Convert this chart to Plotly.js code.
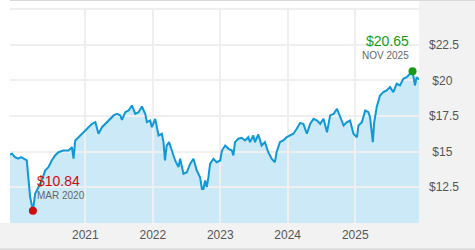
<!DOCTYPE html>
<html>
<head>
<meta charset="utf-8">
<script src="https://cdn.plot.ly/plotly-3.0.1.min.js"></script>
<style>html,body{margin:0;padding:0;background:#fff;}#chart{width:475px;height:250px;}</style>
</head>
<body>
<div id="chart"></div>
<script>
var dates = ['2019-11-20','2019-12-01','2019-12-17',
'2020-01-03','2020-01-19','2020-02-05','2020-02-19','2020-02-27','2020-03-08','2020-03-23','2020-04-04','2020-04-22','2020-05-10','2020-05-28','2020-06-15','2020-07-03','2020-07-21','2020-08-08','2020-09-04','2020-10-02','2020-10-20','2020-10-29','2020-11-07','2020-11-25','2020-12-13',
'2021-01-01','2021-01-19','2021-02-06','2021-02-24','2021-03-13','2021-04-01','2021-04-19','2021-05-06','2021-05-25','2021-06-03','2021-06-21','2021-07-09','2021-07-18','2021-08-05','2021-08-23','2021-09-10','2021-09-28','2021-10-16','2021-11-03','2021-11-21','2021-11-30','2021-12-18','2021-12-27',
'2022-01-14','2022-02-01','2022-02-19','2022-02-28','2022-03-08','2022-03-17','2022-03-30','2022-04-14','2022-05-02','2022-05-20','2022-05-29','2022-06-16','2022-07-04','2022-07-22','2022-08-09','2022-08-27','2022-09-14','2022-09-24','2022-10-02','2022-10-11','2022-10-20','2022-10-29','2022-11-07','2022-11-25','2022-12-13',
'2023-01-01','2023-01-10','2023-01-28','2023-02-15','2023-03-05','2023-03-13','2023-03-22','2023-04-09','2023-04-27','2023-05-15','2023-06-02','2023-06-11','2023-06-29','2023-07-08','2023-07-26','2023-08-13','2023-08-31','2023-09-18','2023-10-06','2023-10-24','2023-11-02','2023-11-20','2023-12-08','2023-12-27',
'2024-01-14','2024-02-01','2024-02-19','2024-03-08','2024-03-26','2024-04-14','2024-05-02','2024-05-20','2024-06-08','2024-06-25','2024-07-13','2024-08-01','2024-08-18','2024-09-06','2024-09-24','2024-10-12','2024-10-30','2024-11-17','2024-12-04','2024-12-22',
'2025-01-10','2025-01-18','2025-02-06','2025-02-24','2025-03-13','2025-03-22','2025-04-06','2025-04-13','2025-04-27','2025-05-15','2025-06-02','2025-06-20','2025-07-08','2025-07-26','2025-08-13','2025-08-31','2025-09-18','2025-10-06','2025-10-24','2025-11-07','2025-11-20','2025-11-29','2025-12-12'];

var values = [14.79,14.85,14.60,
14.50,14.60,14.45,14.37,13.20,11.80,10.84,12.02,12.49,12.96,13.66,13.90,14.37,14.72,14.95,15.07,15.07,15.30,14.50,15.78,16.01,16.25,
16.48,16.71,16.95,17.07,16.25,16.71,16.95,17.18,17.42,17.54,17.65,17.54,17.23,17.77,17.89,18.24,17.65,17.77,18.17,17.65,17.07,17.18,16.71,
17.30,16.13,16.25,15.66,14.37,15.42,15.66,15.07,14.37,13.90,14.49,13.43,13.54,14.13,14.49,13.66,13.19,12.37,12.37,12.96,12.50,13.19,14.13,14.49,14.25,
14.37,15.07,15.42,15.19,15.07,14.72,15.66,15.90,15.97,15.78,16.01,15.66,16.13,15.66,16.20,15.42,15.66,14.95,14.49,14.25,14.95,15.66,15.78,16.01,
16.13,16.25,16.60,17.00,16.95,16.25,16.95,17.30,17.18,16.95,17.30,16.36,17.54,17.65,18.01,17.42,16.83,17.07,17.18,16.25,
16.01,16.83,17.07,17.89,17.77,17.42,15.66,17.00,18.13,18.94,19.18,19.30,19.53,19.18,19.77,19.65,20.12,20.23,20.47,20.65,19.65,20.23,20.07];

var yTickVals = [12.5, 15, 17.5, 20, 22.5, 25];
var yTickText = ['$12.5', '\u00a0$15', '$17.5', '\u00a0$20', '$22.5', ''];
var xTickVals = ['2021-01-01','2022-01-01','2023-01-01','2024-01-01','2025-01-01'];
var xTickText = ['2021','2022','2023','2024','2025'];
var minLabel = '$10.84', minDateLabel = 'MAR 2020';
var maxLabel = '$20.65', maxDateLabel = 'NOV 2025';

var minV = Math.min.apply(null, values), maxV = Math.max.apply(null, values);
var iMin = values.indexOf(minV), iMax = values.indexOf(maxV);

var xRange = ['2019-11-20', '2025-12-12'];
var yRange = [9.97, 25.1];
var FONT = 'Liberation Sans, Arial, sans-serif';
var RED = '#d10a0a', GREEN = '#169c16', BLUE = '#0e98d8';

var traces = [
  {x: dates, y: values, type: 'scatter', mode: 'lines', xaxis: 'x', yaxis: 'y',
   line: {width: 0, color: BLUE}, fill: 'tozeroy', fillcolor: '#cce9f7', hoverinfo: 'skip'},
  {x: dates, y: values, type: 'scatter', mode: 'lines', xaxis: 'x2', yaxis: 'y2',
   line: {width: 2, color: BLUE}},
  {x: [dates[iMin]], y: [minV], type: 'scatter', mode: 'markers', xaxis: 'x2', yaxis: 'y2',
   marker: {size: 8, color: RED}},
  {x: [dates[iMax]], y: [maxV], type: 'scatter', mode: 'markers', xaxis: 'x2', yaxis: 'y2',
   marker: {size: 8, color: GREEN}}
];

var hidden = {showgrid: false, zeroline: false, showticklabels: false, showline: false, ticks: ''};

var layout = {
  width: 475, height: 250,
  margin: {l: 10, r: 56, t: 8, b: 27, pad: 0},
  paper_bgcolor: '#ffffff', plot_bgcolor: 'rgba(0,0,0,0)',
  showlegend: false,
  font: {family: FONT, size: 12, color: '#555'},
  xaxis: Object.assign({type: 'date', range: xRange, domain: [0, 1], anchor: 'y'}, hidden),
  yaxis: Object.assign({range: yRange, domain: [0, 1], anchor: 'x'}, hidden),
  xaxis2: {type: 'date', range: xRange, domain: [0, 1], anchor: 'y2',
    tickmode: 'array', tickvals: xTickVals, ticktext: xTickText,
    showgrid: true, gridcolor: '#efefef', gridwidth: 2, zeroline: false, showline: false,
    ticks: '', tickfont: {family: FONT, size: 12, color: '#555'}, ticklabelstandoff: 3},
  yaxis2: {range: yRange, domain: [0, 1], anchor: 'x2', side: 'right',
    tickmode: 'array', tickvals: yTickVals, ticktext: yTickText,
    showgrid: true, gridcolor: '#efefef', gridwidth: 2, zeroline: false, showline: false,
    ticks: '', tickfont: {family: FONT, size: 12, color: '#555'}, ticklabelstandoff: 9},
  shapes: [
    {type: 'rect', xref: 'paper', yref: 'paper', x0: 1, x1: 1.14, y0: -0.117, y1: 1.0325,
     fillcolor: '#f2f2f2', line: {width: 0}, layer: 'below'},
    {type: 'rect', xref: 'paper', yref: 'paper', x0: -0.03, x1: 1.0, y0: -0.117, y1: 0,
     fillcolor: '#f2f2f2', line: {width: 0}, layer: 'below'},
    {type: 'rect', xref: 'paper', yref: 'paper', x0: -0.03, x1: 1.14, y0: -0.13, y1: -0.117,
     fillcolor: '#d9d9d9', line: {width: 0}, layer: 'below'},
    {type: 'rect', xref: 'paper', yref: 'paper', x0: 0, x1: 1.14, y0: 1.0325, y1: 1.05,
     fillcolor: '#d9d9d9', line: {width: 0}, layer: 'below'}
  ],
  annotations: [
    {xref: 'x2', yref: 'y2', x: dates[iMin], y: minV, text: minLabel, showarrow: false,
     xanchor: 'left', yanchor: 'middle', xshift: 2, yshift: 30,
     font: {family: FONT, size: 14, color: RED}},
    {xref: 'x2', yref: 'y2', x: dates[iMin], y: minV, text: minDateLabel, showarrow: false,
     xanchor: 'left', yanchor: 'middle', xshift: 2, yshift: 15,
     font: {family: FONT, size: 10, color: '#666'}},
    {xref: 'x2', yref: 'y2', x: dates[iMax], y: maxV, text: maxLabel, showarrow: false,
     xanchor: 'right', yanchor: 'middle', xshift: -2, yshift: 30,
     font: {family: FONT, size: 14, color: GREEN}},
    {xref: 'x2', yref: 'y2', x: dates[iMax], y: maxV, text: maxDateLabel, showarrow: false,
     xanchor: 'right', yanchor: 'middle', xshift: -2, yshift: 16,
     font: {family: FONT, size: 10, color: '#666'}}
  ]
};

Plotly.newPlot('chart', traces, layout, {staticPlot: true, displayModeBar: false});
</script>
</body>
</html>
